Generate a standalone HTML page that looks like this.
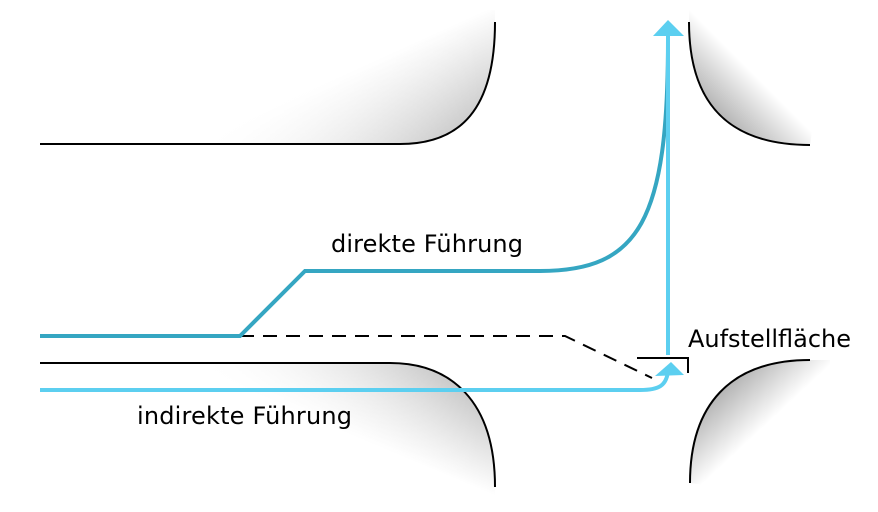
<!DOCTYPE html>
<html><head><style>body{margin:0;background:#fff}svg{display:block}</style></head><body>
<svg width="878" height="512" viewBox="0 0 878 512" xmlns="http://www.w3.org/2000/svg" font-family="DejaVu Sans, Liberation Sans, sans-serif">
<defs>
<linearGradient id="g1" gradientUnits="userSpaceOnUse" x1="470" y1="150" x2="420" y2="40"><stop offset="0" stop-color="#bbb"/><stop offset="1" stop-color="#fff"/></linearGradient>
<linearGradient id="g1h" gradientUnits="userSpaceOnUse" x1="200" y1="0" x2="480" y2="0"><stop offset="0" stop-color="#fff" stop-opacity="1"/><stop offset="1" stop-color="#fff" stop-opacity="0"/></linearGradient>
<linearGradient id="g2" gradientUnits="userSpaceOnUse" x1="708" y1="108" x2="748" y2="68"><stop offset="0" stop-color="#b0b0b0"/><stop offset="1" stop-color="#fff"/></linearGradient>
<linearGradient id="g3" gradientUnits="userSpaceOnUse" x1="450" y1="365" x2="410" y2="460"><stop offset="0" stop-color="#bbb"/><stop offset="1" stop-color="#fff"/></linearGradient>
<linearGradient id="g4" gradientUnits="userSpaceOnUse" x1="712" y1="395" x2="752" y2="438"><stop offset="0" stop-color="#b0b0b0"/><stop offset="1" stop-color="#fff"/></linearGradient>
</defs>
<path d="M200,144 L400,144 C460,144 495,110 495,22 L495,10 L200,10 Z" fill="url(#g1)"/>
<rect x="150" y="10" width="350" height="135" fill="url(#g1h)"/>
<path d="M40,144 L400,144 C460,144 495,110 495,22" fill="none" stroke="#000" stroke-width="2"/>
<path d="M689,22 C689,100 725,145 810,145 L830,10 L689,10 Z" fill="url(#g2)"/>
<path d="M689,22 C689,100 725,145 810,145" fill="none" stroke="#000" stroke-width="2"/>
<path d="M200,363 L390,363 C450,363 495,400 495,487 L495,500 L200,500 Z" fill="url(#g3)"/>
<rect x="150" y="364" width="350" height="140" fill="url(#g1h)"/>
<path d="M40,363 L390,363 C450,363 495,400 495,487" fill="none" stroke="#000" stroke-width="2"/>
<path d="M810,360 C730,360 690,405 690,483 L830,500 L830,360 Z" fill="url(#g4)"/>
<path d="M810,360 C730,360 690,405 690,483" fill="none" stroke="#000" stroke-width="2"/>
<path d="M240,336 L565,336 L652,378" fill="none" stroke="#000" stroke-width="2" stroke-dasharray="14,9"/>
<path d="M637,358 L688,358 L688,373" fill="none" stroke="#000" stroke-width="2"/>
<path d="M40,336 L240,336 L305,271 L540,271 C640,271 668,220 668,40" fill="none" stroke="#35a6c2" stroke-width="4"/>
<path d="M668,355 L668,32" stroke="#5ccff0" stroke-width="4"/>
<path d="M653,36 L668,20 L684,36 Z" fill="#5ccff0"/>
<path d="M40,390 L640,390 C660,390 666,385 668,372" fill="none" stroke="#5ccff0" stroke-width="4"/>
<path d="M655,376 L671,362 L684,375 Z" fill="#5ccff0"/>
<text x="331" y="252" font-size="24" textLength="192" fill="#000">direkte Führung</text>
<text x="137" y="424" font-size="24" textLength="215" fill="#000">indirekte Führung</text>
<text x="688" y="347" font-size="24" textLength="163" fill="#000">Aufstellfläche</text>
</svg>
</body></html>
